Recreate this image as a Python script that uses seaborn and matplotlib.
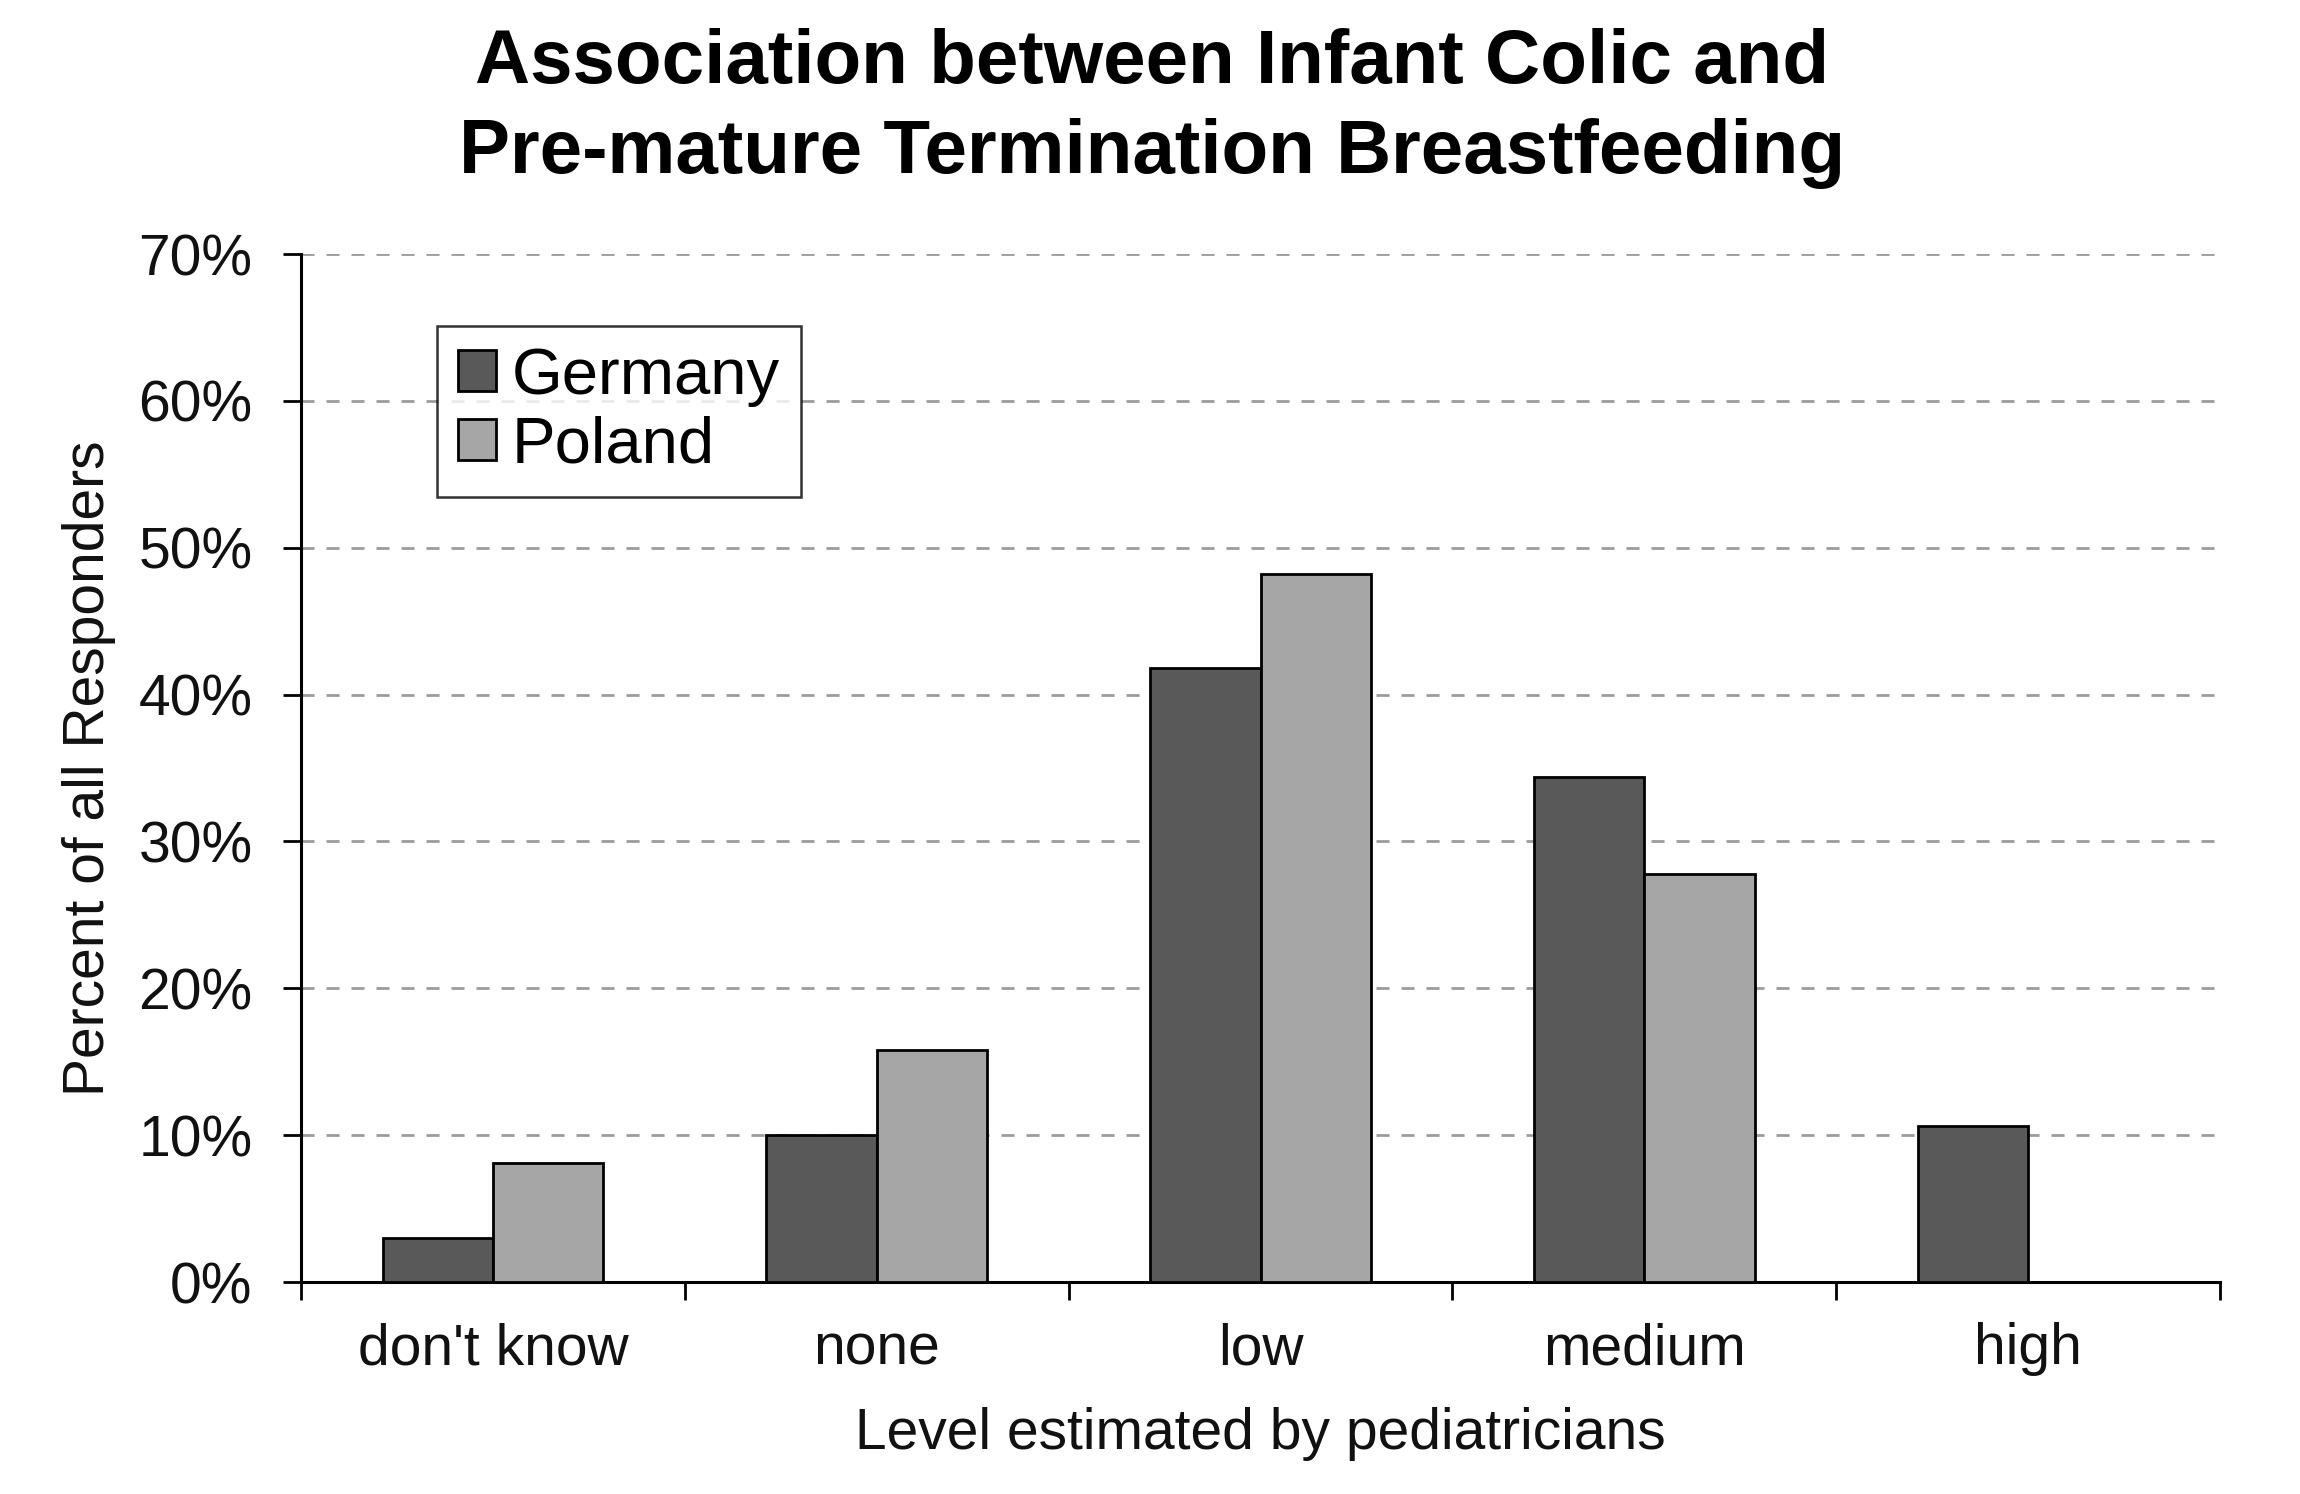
import matplotlib
matplotlib.use("Agg")
import matplotlib.pyplot as plt
from matplotlib.ticker import FixedLocator, PercentFormatter
import seaborn as sns
import pandas as pd

# values (percent of all responders)
levels = ["don't know", "none", "low", "medium", "high"]
germany = [3.0, 10.0, 41.8, 34.4, 10.6]
poland = [8.1, 15.8, 48.2, 27.8, 0.0]
countries = ["Germany", "Poland"]
colors = {"Germany": "#595959", "Poland": "#a6a6a6"}

df = pd.DataFrame({
    "level": levels * 2,
    "country": ["Germany"] * len(levels) + ["Poland"] * len(levels),
    "pct": germany + poland,
})

sns.set_style("white")
plt.rcParams["font.family"] = ["Liberation Sans", "DejaVu Sans"]
plt.rcParams["text.color"] = "black"

fig = plt.figure(figsize=(23, 14.94), dpi=100)
ax = fig.add_axes([0.1309, 0.1419, 0.8343, 0.688])

sns.barplot(data=df, x="level", y="pct", hue="country", order=levels,
            hue_order=countries, palette=colors, width=0.575, gap=0,
            edgecolor="black", linewidth=2, saturation=1, ax=ax, zorder=3)

ax.set_xlim(-0.5, len(levels) - 0.5)
ax.set_ylim(0, 70)
ax.set_yticks(range(0, 71, 10))
ax.yaxis.set_major_formatter(PercentFormatter(decimals=0))
ax.grid(axis="y", color="#9c9c9c", linestyle=(0, (4.7, 4.3)), linewidth=2)
ax.set_axisbelow(True)

for side in ["top", "right"]:
    ax.spines[side].set_visible(False)
for side in ["left", "bottom"]:
    ax.spines[side].set_color("black")
    ax.spines[side].set_linewidth(2.2)

ax.tick_params(axis="y", which="major", direction="out", length=13, width=2,
               color="black", left=True, pad=22, labelsize=41, labelcolor="#111111")
ax.tick_params(axis="x", which="major", length=0, pad=29, labelsize=41,
               labelcolor="#111111")
# category boundary ticks, Excel style
ax.xaxis.set_minor_locator(FixedLocator([i - 0.5 for i in range(len(levels) + 1)]))
ax.tick_params(axis="x", which="minor", direction="out", length=13, width=2,
               color="black", bottom=True)

ax.set_xlabel("Level estimated by pediatricians", fontsize=41, labelpad=22,
              color="#111111")
ax.set_ylabel("Percent of all Responders", fontsize=41, labelpad=16,
              color="#111111")

leg = ax.legend(loc="upper left", bbox_to_anchor=(0.190, 0.782),
                bbox_transform=fig.transFigure, borderaxespad=0,
                fontsize=47, frameon=True, fancybox=False, edgecolor="black",
                handlelength=0.58, handleheight=0.58, handletextpad=0.25,
                borderpad=0.32, labelspacing=0.14)
leg.get_frame().set_linewidth(1.8)
leg.set_title(None)

fig.text(0.501, 0.9444, "Association between Infant Colic and",
         ha="center", va="baseline", fontsize=55, fontweight="bold", color="black")
fig.text(0.501, 0.884, "Pre-mature Termination Breastfeeding",
         ha="center", va="baseline", fontsize=55, fontweight="bold", color="black")

fig.savefig("out.png", dpi=100)
